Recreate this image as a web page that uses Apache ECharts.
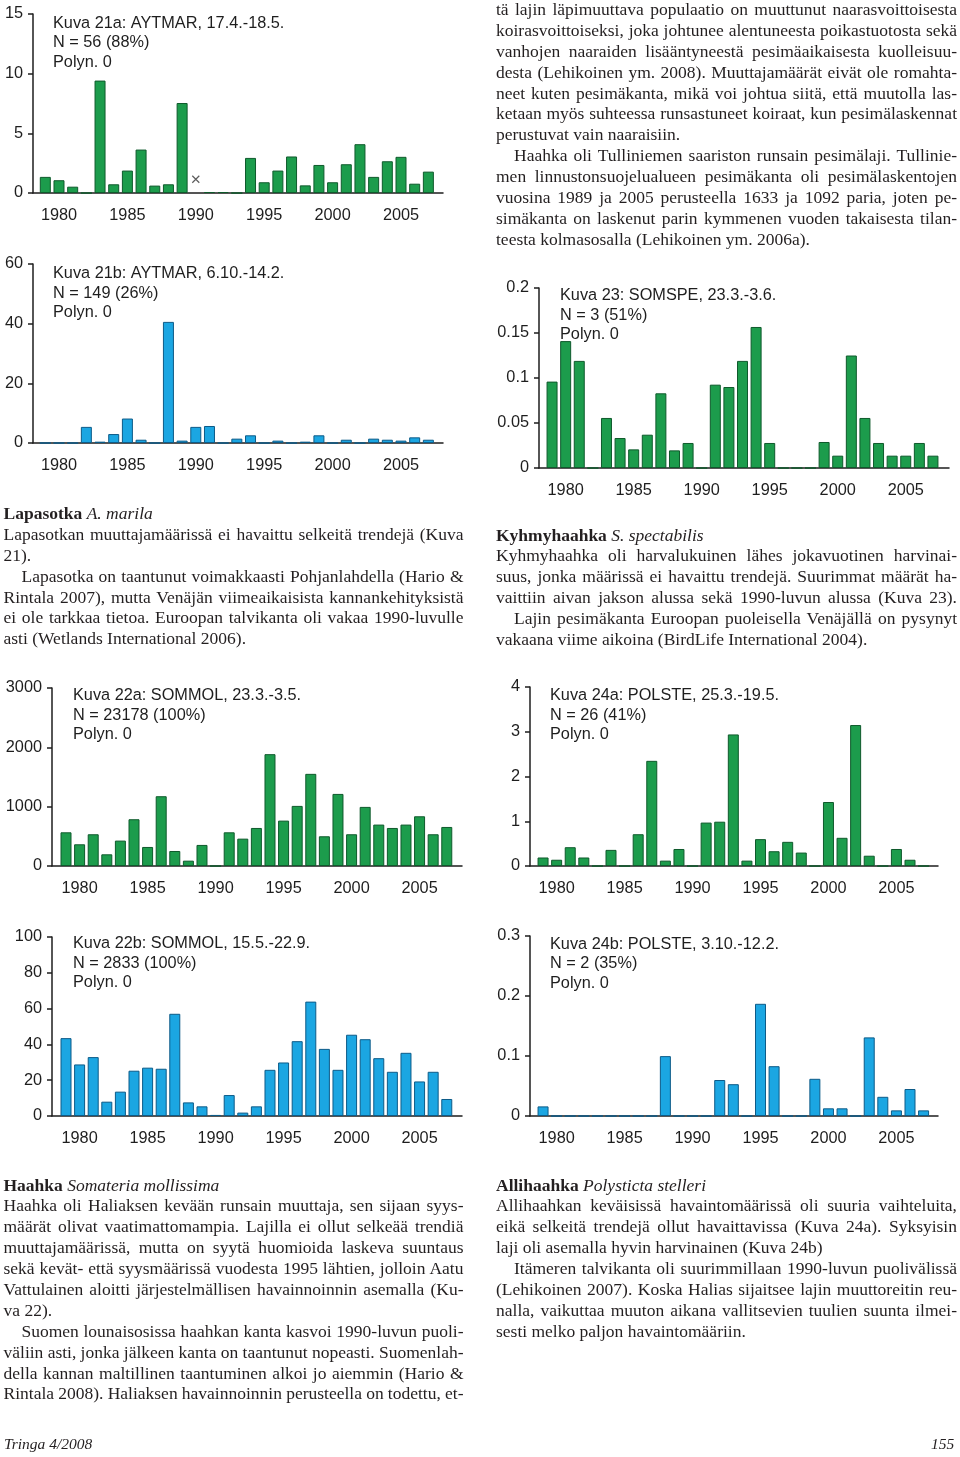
<!DOCTYPE html>
<html><head><meta charset="utf-8">
<script src="https://cdn.jsdelivr.net/npm/echarts@6/dist/echarts.min.js"></script>
<style>
html,body{margin:0;padding:0;background:#fff;}
#page{position:relative;width:960px;height:1457px;overflow:hidden;background:#fff;}
#chart{position:absolute;left:0;top:0;width:960px;height:1457px;}
.txt{position:absolute;font-family:"Liberation Serif","Times New Roman",serif;font-size:17.5px;line-height:20.9px;color:#231f20;}
.ln{white-space:nowrap;height:20.9px;}
.ind{padding-left:18px;}
.foot{position:absolute;font-family:"Liberation Serif","Times New Roman",serif;font-style:italic;font-size:15.5px;color:#231f20;line-height:18px;}
</style></head>
<body><div id="page"><div id="chart"></div>

<div class="txt" style="left:496px;top:-1px;width:461px;">
<div class="ln"><span class="j">tä lajin läpimuuttava populaatio on muuttunut naarasvoittoisesta</span></div>
<div class="ln"><span class="j">koirasvoittoiseksi, joka johtunee alentuneesta poikastuotosta sekä</span></div>
<div class="ln"><span class="j">vanhojen naaraiden lisääntyneestä pesimäaikaisesta kuolleisuu-</span></div>
<div class="ln"><span class="j">desta (Lehikoinen ym. 2008). Muuttajamäärät eivät ole romahta-</span></div>
<div class="ln"><span class="j">neet kuten pesimäkanta, mikä voi johtua siitä, että muutolla las-</span></div>
<div class="ln"><span class="j">ketaan myös suhteessa runsastuneet koiraat, kun pesimälaskennat</span></div>
<div class="ln"><span>perustuvat vain naaraisiin.</span></div>
<div class="ln ind"><span class="j">Haahka oli Tulliniemen saariston runsain pesimälaji. Tullinie-</span></div>
<div class="ln"><span class="j">men linnustonsuojelualueen pesimäkanta oli pesimälaskentojen</span></div>
<div class="ln"><span class="j">vuosina 1989 ja 2005 perusteella 1633 ja 1092 paria, joten pe-</span></div>
<div class="ln"><span class="j">simäkanta on laskenut parin kymmenen vuoden takaisesta tilan-</span></div>
<div class="ln"><span>teesta kolmasosalla (Lehikoinen ym. 2006a).</span></div>
</div>

<div class="txt" style="left:3.5px;top:503px;width:460px;">
<div class="ln"><span><b>Lapasotka</b> <i>A. marila</i></span></div>
<div class="ln"><span class="j">Lapasotkan muuttajamäärissä ei havaittu selkeitä trendejä (Kuva</span></div>
<div class="ln"><span>21).</span></div>
<div class="ln ind"><span class="j">Lapasotka on taantunut voimakkaasti Pohjanlahdella (Hario &amp;</span></div>
<div class="ln"><span class="j">Rintala 2007), mutta Venäjän viimeaikaisista kannankehityksistä</span></div>
<div class="ln"><span class="j">ei ole tarkkaa tietoa. Euroopan talvikanta oli vakaa 1990-luvulle</span></div>
<div class="ln"><span>asti (Wetlands International 2006).</span></div>
</div>

<div class="txt" style="left:496px;top:524.5px;width:461px;">
<div class="ln"><span><b>Kyhmyhaahka</b> <i>S. spectabilis</i></span></div>
<div class="ln"><span class="j">Kyhmyhaahka oli harvalukuinen lähes jokavuotinen harvinai-</span></div>
<div class="ln"><span class="j">suus, jonka määrissä ei havaittu trendejä. Suurimmat määrät ha-</span></div>
<div class="ln"><span class="j">vaittiin aivan jakson alussa sekä 1990-luvun alussa (Kuva 23).</span></div>
<div class="ln ind"><span class="j">Lajin pesimäkanta Euroopan puoleisella Venäjällä on pysynyt</span></div>
<div class="ln"><span>vakaana viime aikoina (BirdLife International 2004).</span></div>
</div>

<div class="txt" style="left:3.5px;top:1174.5px;width:460px;">
<div class="ln"><span><b>Haahka</b> <i>Somateria mollissima</i></span></div>
<div class="ln"><span class="j">Haahka oli Haliaksen kevään runsain muuttaja, sen sijaan syys-</span></div>
<div class="ln"><span class="j">määrät olivat vaatimattomampia. Lajilla ei ollut selkeää trendiä</span></div>
<div class="ln"><span class="j">muuttajamäärissä, mutta on syytä huomioida laskeva suuntaus</span></div>
<div class="ln"><span class="j">sekä kevät- että syysmäärissä vuodesta 1995 lähtien, jolloin Aatu</span></div>
<div class="ln"><span class="j">Vattulainen aloitti järjestelmällisen havainnoinnin asemalla (Ku-</span></div>
<div class="ln"><span>va 22).</span></div>
<div class="ln ind"><span class="j">Suomen lounaisosissa haahkan kanta kasvoi 1990-luvun puoli-</span></div>
<div class="ln"><span class="j">väliin asti, jonka jälkeen kanta on taantunut nopeasti. Suomenlah-</span></div>
<div class="ln"><span class="j">della kannan maltillinen taantuminen alkoi jo aiemmin (Hario &amp;</span></div>
<div class="ln"><span class="j">Rintala 2008). Haliaksen havainnoinnin perusteella on todettu, et-</span></div>
</div>

<div class="txt" style="left:496px;top:1174.5px;width:461px;">
<div class="ln"><span><b>Allihaahka</b> <i>Polysticta stelleri</i></span></div>
<div class="ln"><span class="j">Allihaahkan keväisissä havaintomäärissä oli suuria vaihteluita,</span></div>
<div class="ln"><span class="j">eikä selkeitä trendejä ollut havaittavissa (Kuva 24a). Syksyisin</span></div>
<div class="ln"><span>laji oli asemalla hyvin harvinainen (Kuva 24b)</span></div>
<div class="ln ind"><span class="j">Itämeren talvikanta oli suurimmillaan 1990-luvun puolivälissä</span></div>
<div class="ln"><span class="j">(Lehikoinen 2007). Koska Halias sijaitsee lajin muuttoreitin reu-</span></div>
<div class="ln"><span class="j">nalla, vaikuttaa muuton aikana vallitsevien tuulien suunta ilmei-</span></div>
<div class="ln"><span>sesti melko paljon havaintomääriin.</span></div>
</div>

<div class="foot" style="left:4px;top:1435px;">Tringa 4/2008</div>
<div class="foot" style="left:931px;top:1435px;">155</div>
</div>

<script>
// ---- data ----
const years = [1979,1980,1981,1982,1983,1984,1985,1986,1987,1988,1989,1990,1991,1992,1993,1994,1995,1996,1997,1998,1999,2000,2001,2002,2003,2004,2005,2006,2007];
const xTickYears = [1980,1985,1990,1995,2000,2005];

// Kuva 21a: AYTMAR spring (1990 missing)
const aytmarSpring = [1.35,1.07,0.53,0,9.42,0.73,1.88,3.64,0.62,0.73,7.54,null,0.08,0.08,0,2.94,0.9,1.88,3.06,0.64,2.35,0.9,2.41,4.09,1.35,2.66,3.03,0.78,1.79];
const aytmarSpringMissingYears = [1990];
const aytmarSpringMissingMarkY = 1.15;
// Kuva 21b: AYTMAR autumn
const aytmarAutumn = [0,0,0,5.4,0.45,3.0,8.2,1.1,0,40.6,0.8,5.4,5.7,0,1.46,2.58,0,0.8,0,0.45,2.58,0,1.1,0,1.46,1.1,0.8,1.9,1.1];
// Kuva 23: SOMSPE spring
const somspeSpring = [0.096,0.141,0.119,0,0.0556,0.0333,0.0207,0.037,0.083,0.0196,0.0278,0,0.0926,0.09,0.119,0.1567,0.0278,0,0,0,0.0289,0.0137,0.125,0.0556,0.0278,0.0137,0.0137,0.0278,0.0137];
// Kuva 22a: SOMMOL spring
const sommolSpring = [568,366,535,197,428,788,321,1176,253,90,355,0,568,461,641,1885,765,1013,1553,501,1215,535,996,698,641,698,838,535,658];
// Kuva 22b: SOMMOL summer/autumn
const sommolSummer = [43.5,28.8,32.9,8.0,13.6,25.3,27.0,26.4,57.1,7.6,5.4,0.6,11.7,1.9,5.4,25.8,29.9,41.8,63.9,37.5,25.8,45.4,42.9,32.3,24.7,35.3,19.3,24.7,9.5];
// Kuva 24a: POLSTE spring
const polsteSpring = [0.19,0.14,0.42,0.19,0,0.36,0,0.71,2.35,0.12,0.38,0,0.97,0.99,2.94,0.12,0.60,0.33,0.54,0.30,0,1.43,0.63,3.15,0.23,0,0.38,0.14,0];
// Kuva 24b: POLSTE autumn
const polsteAutumn = [0.016,0,0,0,0,0,0,0,0,0.0998,0,0,0,0.06,0.053,0,0.187,0.083,0,0,0.062,0.0128,0.0128,0,0.131,0.032,0.0094,0.045,0.0094];

const titles = {
  k21a: 'Kuva 21a: AYTMAR, 17.4.-18.5.\nN = 56 (88%)\nPolyn. 0',
  k21b: 'Kuva 21b: AYTMAR, 6.10.-14.2.\nN = 149 (26%)\nPolyn. 0',
  k23:  'Kuva 23: SOMSPE, 23.3.-3.6.\nN = 3 (51%)\nPolyn. 0',
  k22a: 'Kuva 22a: SOMMOL, 23.3.-3.5.\nN = 23178 (100%)\nPolyn. 0',
  k22b: 'Kuva 22b: SOMMOL, 15.5.-22.9.\nN = 2833 (100%)\nPolyn. 0',
  k24a: 'Kuva 24a: POLSTE, 25.3.-19.5.\nN = 26 (41%)\nPolyn. 0',
  k24b: 'Kuva 24b: POLSTE, 3.10.-12.2.\nN = 2 (35%)\nPolyn. 0'
};

// ---- layout / style ----
const GREEN = {color:'#1c9c4c', border:'#0f5a2c'};
const BLUE  = {color:'#1ba6e2', border:'#0d5b88'};
const SANS = '"Liberation Sans", Arial, Helvetica, sans-serif';
const INK = '#1e1e1e';

const panels = [
  {key:'k21a', vals:aytmarSpring, col:GREEN, g:{left:33,top:14,width:410,height:179}, xr:[1978.1,2008.07], ymax:15, yint:5, t:{left:53,top:13.5}},
  {key:'k21b', vals:aytmarAutumn, col:BLUE, g:{left:33,top:264,width:410,height:179}, xr:[1978.1,2008.07], ymax:60, yint:20, t:{left:53,top:264}},
  {key:'k23', vals:somspeSpring, col:GREEN, g:{left:539,top:288,width:410,height:180}, xr:[1978.04,2008.18], ymax:0.2, yint:0.05, t:{left:560,top:286}},
  {key:'k22a', vals:sommolSpring, col:GREEN, g:{left:52,top:688,width:410,height:178}, xr:[1977.97,2008.12], ymax:3000, yint:1000, t:{left:73,top:686}},
  {key:'k22b', vals:sommolSummer, col:BLUE, g:{left:52,top:937,width:410,height:179}, xr:[1977.97,2008.12], ymax:100, yint:20, t:{left:73,top:934}},
  {key:'k24a', vals:polsteSpring, col:GREEN, g:{left:530,top:687,width:408,height:179}, xr:[1978.04,2008.06], ymax:4, yint:1, t:{left:550,top:686}},
  {key:'k24b', vals:polsteAutumn, col:BLUE, g:{left:530,top:936,width:408,height:180}, xr:[1978.04,2008.06], ymax:0.3, yint:0.1, t:{left:550,top:934.5}}
];

const fmt = v => String(+(+v).toFixed(6));

const option = {animation:false, grid:[], xAxis:[], yAxis:[], series:[], title:[]};
panels.forEach((p,i) => {
  option.grid.push(Object.assign({containLabel:false}, p.g));
  option.xAxis.push({
    gridIndex:i, type:'value', min:p.xr[0], max:p.xr[1],
    axisLine:{show:true, onZero:false, lineStyle:{color:INK, width:1.5}},
    axisTick:{show:false},
    axisLabel:{customValues:xTickYears, margin:15, fontSize:16.3, color:INK, fontFamily:SANS, formatter:fmt},
    splitLine:{show:false}
  });
  option.yAxis.push({
    gridIndex:i, type:'value', min:0, max:p.ymax, interval:p.yint,
    axisLine:{show:true, lineStyle:{color:INK, width:1.5}},
    axisTick:{show:true, inside:false, length:5, lineStyle:{color:INK, width:1.5}},
    axisLabel:{margin:10, fontSize:16.3, color:INK, fontFamily:SANS, formatter:fmt},
    splitLine:{show:false}
  });
  option.series.push({
    type:'bar', xAxisIndex:i, yAxisIndex:i, barWidth:11, silent:true,
    data: years.map((y,k) => [y, p.vals[k]]),
    itemStyle:{color:p.col.color, borderColor:p.col.border, borderWidth:1}
  });
  option.title.push({
    text:titles[p.key], left:p.t.left, top:p.t.top, padding:0,
    textStyle:{fontSize:16.3, fontWeight:'normal', color:INK, fontFamily:SANS, lineHeight:19.5}
  });
});
// missing-data marker (×) in Kuva 21a
option.series.push({
  type:'scatter', xAxisIndex:0, yAxisIndex:0, silent:true,
  data: aytmarSpringMissingYears.map(y => [y, aytmarSpringMissingMarkY]),
  symbol:'path://M0,0L10,10M10,0L0,10', symbolSize:7,
  itemStyle:{color:'none', borderColor:'#333', borderWidth:1.2}
});

const chart = echarts.init(document.getElementById('chart'), null, {renderer:'canvas'});
chart.setOption(option);

function justify(){
  document.querySelectorAll('span.j').forEach(el => {
    const line = el.parentNode;
    const box = line.parentNode;
    const target = box.clientWidth - (line.classList.contains('ind') ? 18 : 0);
    el.style.wordSpacing = '0px';
    const w = el.getBoundingClientRect().width;
    const spaces = (el.textContent.match(/ /g) || []).length;
    if (spaces) el.style.wordSpacing = ((target - w) / spaces) + 'px';
  });
}
justify();
if (document.fonts && document.fonts.ready) document.fonts.ready.then(justify);
</script>
</body></html>
